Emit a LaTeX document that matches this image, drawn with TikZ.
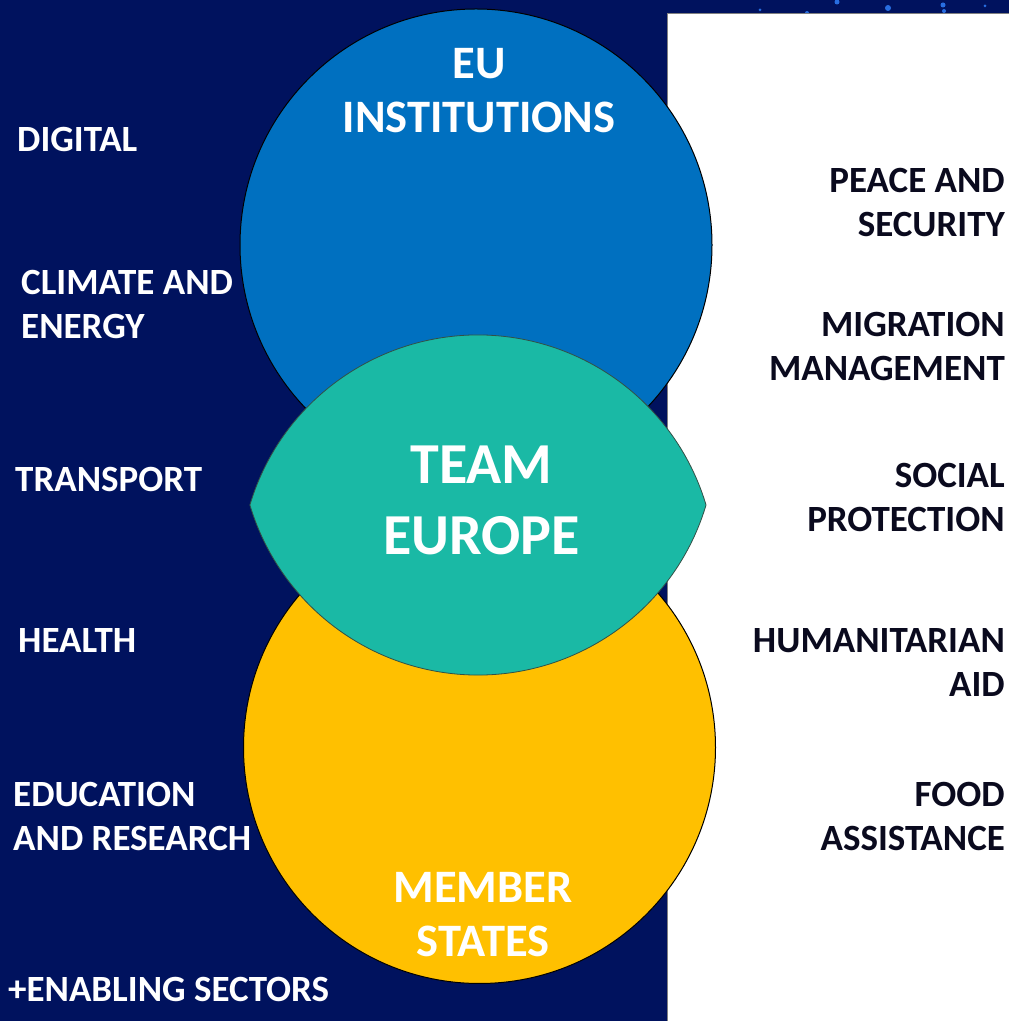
\documentclass[tikz,border=0pt]{standalone}
\usepackage{fontspec}
\setmainfont{Carlito}
\definecolor{navybg}{RGB}{0,18,94}
\definecolor{eublue}{RGB}{0,112,192}
\definecolor{teamteal}{RGB}{26,185,165}
\definecolor{msyellow}{RGB}{255,192,0}
\definecolor{darktext}{RGB}{10,10,30}
\definecolor{stardot}{RGB}{40,110,225}
\tikzset{
  leftlabel/.style={anchor=west, inner sep=0pt, align=left, text=white,
    font=\fontsize{37}{44}\selectfont\bfseries},
  rightlabel/.style={anchor=east, inner sep=0pt, align=right, text=darktext,
    font=\fontsize{37}{44}\selectfont\bfseries},
  circletitle/.style={anchor=center, inner sep=0pt, align=center, text=white,
    font=\fontsize{46.5}{54}\selectfont\bfseries},
  teamtitle/.style={anchor=center, inner sep=0pt, align=center, text=white,
    font=\fontsize{58}{71}\selectfont\bfseries},
  circleshape/.style={draw=black, line width=1pt},
  dot/.style={fill=stardot, draw=none}
}
\begin{document}
\begin{tikzpicture}[x=1pt, y=1pt]
  \useasboundingbox (0,0) rectangle (1009,1021);
  % background
  \fill[navybg] (0,0) rectangle (1009,1021);
  % star dots at the top
  \fill[dot] (837,1019) circle (2.5);
  \fill[dot] (807,1008) circle (2);
  \fill[dot] (888,1013) circle (3);
  \fill[dot] (943,1016) circle (2.5);
  \fill[dot] (944,1010) circle (2);
  \fill[dot] (760,1011) circle (1.5);
  \fill[dot] (985,1015) circle (1.5);
  % white panel
  \fill[white] (667,0) rectangle (1009,1007);
  \draw[gray, line width=1pt] (667,0) -- (667,1007) -- (1009,1007);
  % circles
  \filldraw[circleshape, fill=eublue] (476,776) circle (236);
  \filldraw[circleshape, fill=msyellow] (479.5,273.5) circle (236);
  % lens
  \filldraw[draw={rgb,255:red,50;green,80;blue,70}, line width=0.8pt, fill=teamteal]
    (249.9,516) arc[start angle=163.4, end angle=16.6, radius=238]
    arc[start angle=-16.6, end angle=-163.4, radius=238] -- cycle;
  % circle titles
  \node[circletitle] (eu) at (479,930.5) {EU\\INSTITUTIONS};
  \node[teamtitle] (team) at (481.5,520.5) {TEAM\\EUROPE};
  \node[circletitle] (ms) at (483,106.5) {MEMBER\\STATES};
  % left labels
  \node[leftlabel] (digital) at (17,881) {DIGITAL};
  \node[leftlabel] (climate) at (21,716) {CLIMATE AND\\ENERGY};
  \node[leftlabel] (transport) at (15,542) {TRANSPORT};
  \node[leftlabel] (health) at (18,380) {HEALTH};
  \node[leftlabel] (education) at (13,204.5) {EDUCATION\\AND RESEARCH};
  \node[leftlabel] (enabling) at (8,32) {+ENABLING SECTORS};
  % right labels
  \node[rightlabel] (peace) at (1005,818) {PEACE AND\\SECURITY};
  \node[rightlabel] (migration) at (1005,674) {MIGRATION\\MANAGEMENT};
  \node[rightlabel] (social) at (1005,524) {SOCIAL\\PROTECTION};
  \node[rightlabel] (humanitarian) at (1005,358) {HUMANITARIAN\\AID};
  \node[rightlabel] (food) at (1005,204.5) {FOOD\\ASSISTANCE};
\end{tikzpicture}
\end{document}
